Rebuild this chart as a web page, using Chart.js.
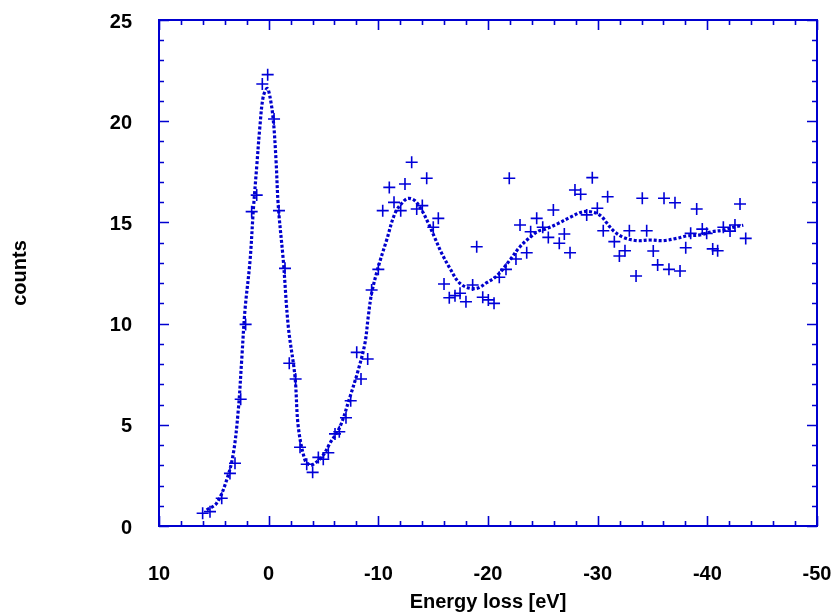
<!DOCTYPE html>
<html>
<head>
<meta charset="utf-8">
<script src="https://cdn.jsdelivr.net/npm/chart.js@4.4.1/dist/chart.umd.min.js"></script>
<style>
html,body{margin:0;padding:0;background:#ffffff;}
#wrap{width:834px;height:612px;}
</style>
</head>
<body>
<div id="wrap"><canvas id="c" width="834" height="612"></canvas></div>
<script>
// ---- data ----
const pointsX = [6.02,5.35,4.28,3.53,3.07,2.55,2.10,1.55,1.09,0.58,0.09,-0.49,-0.94,-1.49,-1.88,-2.46,-2.86,-3.47,-4.01,-4.53,-4.98,-5.44,-6.05,-6.44,-7.05,-7.48,-8.03,-8.42,-9.03,-9.39,-10.0,-10.4,-11.0,-11.43,-12.04,-12.43,-13.04,-13.5,-14.01,-14.41,-15.01,-15.47,-15.99,-16.47,-16.99,-17.45,-17.99,-18.6,-18.97,-19.52,-20.03,-20.55,-21.03,-21.64,-21.94,-22.55,-22.92,-23.53,-23.89,-24.44,-24.99,-25.5,-25.96,-26.5,-26.96,-27.48,-27.93,-28.45,-29.0,-29.51,-29.97,-30.51,-30.91,-31.52,-31.98,-32.49,-32.89,-33.5,-34.07,-34.47,-35.07,-35.47,-36.05,-36.5,-37.05,-37.51,-38.03,-38.48,-39.03,-39.54,-39.94,-40.49,-40.94,-41.46,-42.07,-42.52,-42.98,-43.5];
const pointsY = [0.63,0.71,1.37,2.6,3.1,6.26,9.96,15.53,16.35,21.84,22.3,20.11,15.58,12.73,8.04,7.26,3.89,3.05,2.65,3.39,3.3,3.62,4.55,4.66,5.35,6.19,8.58,7.26,8.25,11.66,12.68,15.58,16.73,15.99,15.58,16.9,17.97,15.66,15.83,17.18,14.76,15.2,11.96,11.28,11.38,11.5,11.08,11.91,13.8,11.3,11.17,11.0,12.29,12.68,17.18,13.19,14.87,13.5,14.54,15.2,14.76,14.26,15.61,13.97,14.43,13.5,16.6,16.39,15.37,17.21,15.7,14.59,16.27,14.05,13.34,13.6,14.59,12.35,16.19,14.59,13.59,12.9,16.19,12.68,15.97,12.6,13.75,14.46,15.66,14.67,14.46,13.69,13.6,14.76,14.57,14.87,15.91,14.21];

const fitX = [5.65,4.74,3.83,3.22,2.77,2.46,2.16,1.70,1.40,1.09,0.80,0.50,0.13,-0.12,-0.42,-0.67,-0.88,-1.33,-1.79,-2.4,-2.7,-3.31,-3.77,-4.22,-4.98,-5.59,-6.5,-7.42,-8.17,-8.78,-9.08,-9.39,-10.0,-10.76,-11.52,-12.28,-12.73,-13.34,-13.95,-14.56,-15.17,-15.78,-16.53,-17.29,-18.06,-18.97,-19.88,-20.79,-22.0,-22.92,-23.83,-24.59,-25.2,-26.41,-27.48,-28.69,-29.76,-30.37,-30.82,-31.43,-32.34,-33.56,-34.77,-35.98,-37.2,-38.12,-39.33,-40.4,-41.46,-42.37,-43.28];
const fitY = [0.79,1.13,2.27,3.59,5.73,8.2,10.67,13.1,15.6,17.75,19.73,21.2,21.62,21.2,20.06,18.08,15.78,13.14,9.85,7.38,4.9,3.26,3.01,3.1,3.51,4.09,4.9,6.39,7.71,9.03,10.34,11.5,12.81,14.13,15.45,16.03,16.19,16.07,15.61,14.96,14.21,13.47,12.73,12.07,11.79,11.74,12.02,12.35,13.14,13.8,14.26,14.57,14.66,14.95,15.25,15.53,15.48,15.28,14.98,14.59,14.26,14.1,14.13,14.1,14.21,14.33,14.38,14.54,14.62,14.76,14.86];

const xTicks = [10, 0, -10, -20, -30, -40, -50];
const yTicks = [0, 5, 10, 15, 20, 25];
const xTitle = 'Energy loss [eV]';
const yTitle = 'counts';

// ---- styles ----
const BLUE = '#0000d8';
const AXIS_BLUE = '#0000d0';
const FONT = 'Liberation Sans, Arial, Helvetica, sans-serif';

const scatterData = pointsX.map((x, i) => ({x: x, y: pointsY[i]}));
const fitData = fitX.map((x, i) => ({x: x, y: fitY[i]}));

function noLabelPadding(s) {
  s.paddingTop = 0; s.paddingBottom = 0; s.paddingLeft = 0; s.paddingRight = 0;
}

const frameTicks = {
  id: 'frameTicks',
  afterDatasetsDraw(chart) {
    const {ctx, chartArea: a, scales} = chart;
    const xs = scales.x, ys = scales.y;
    ctx.save();
    ctx.strokeStyle = AXIS_BLUE;
    ctx.lineWidth = 2;
    ctx.strokeRect(a.left, a.top, a.right - a.left, a.bottom - a.top);
    ctx.lineWidth = 1.6;
    ctx.beginPath();
    const xMin = Math.min(...xTicks), xMax = Math.max(...xTicks);
    for (let i = 0; i <= (xMax - xMin) / 2; i++) {
      const v = xMin + 2 * i;
      const px = Math.round(xs.getPixelForValue(v)) + 0.5;
      const L = (v % 10 === 0) ? 10 : 5;
      ctx.moveTo(px, a.bottom); ctx.lineTo(px, a.bottom - L);
      ctx.moveTo(px, a.top); ctx.lineTo(px, a.top + L);
    }
    const yMin = Math.min(...yTicks), yMax = Math.max(...yTicks);
    for (let v = yMin; v <= yMax; v++) {
      const py = Math.round(ys.getPixelForValue(v)) + 0.5;
      const L = (v % 5 === 0) ? 10 : 5;
      ctx.moveTo(a.left, py); ctx.lineTo(a.left + L, py);
      ctx.moveTo(a.right, py); ctx.lineTo(a.right - L, py);
    }
    ctx.stroke();
    ctx.restore();
  }
};

new Chart(document.getElementById('c'), {
  type: 'scatter',
  data: {
    datasets: [
      {
        label: 'data',
        data: scatterData,
        showLine: false,
        pointStyle: 'cross',
        pointRadius: 6,
        pointHoverRadius: 6,
        pointBorderWidth: 1.6,
        borderColor: BLUE,
        backgroundColor: BLUE
      },
      {
        label: 'fit',
        data: fitData,
        showLine: true,
        pointRadius: 0,
        borderColor: '#0000cc',
        borderWidth: 3.2,
        borderDash: [3, 2],
        tension: 0.35,
        fill: false
      }
    ]
  },
  options: {
    responsive: false,
    devicePixelRatio: 1,
    animation: false,
    events: [],
    layout: {padding: {left: 0, top: 20, right: 17, bottom: 0}},
    plugins: {legend: {display: false}, tooltip: {enabled: false}},
    scales: {
      x: {
        type: 'linear',
        reverse: true,
        min: -50, max: 10,
        afterFit(s) { s.height = 86; noLabelPadding(s); },
        afterBuildTicks(s) { s.ticks = xTicks.map(v => ({value: v})); },
        grid: {display: false, drawTicks: false},
        border: {display: false},
        ticks: {color: '#000', font: {family: FONT, size: 20, weight: 'bold'}, padding: 36, maxRotation: 0},
        title: {display: true, text: xTitle, color: '#000', font: {family: FONT, size: 20, weight: 'bold', lineHeight: 1}, padding: {top: 0, bottom: 0}}
      },
      y: {
        type: 'linear',
        min: 0, max: 25,
        afterFit(s) { s.width = 159; noLabelPadding(s); },
        afterBuildTicks(s) { s.ticks = yTicks.map(v => ({value: v})); },
        grid: {display: false, drawTicks: false},
        border: {display: false},
        ticks: {color: '#000', font: {family: FONT, size: 20, weight: 'bold'}, padding: 27, labelOffset: 2},
        title: {display: true, text: yTitle, color: '#000', font: {family: FONT, size: 20, weight: 'bold', lineHeight: 1}, padding: {top: 10, bottom: 0}}
      }
    }
  },
  plugins: [frameTicks]
});
</script>
</body>
</html>
